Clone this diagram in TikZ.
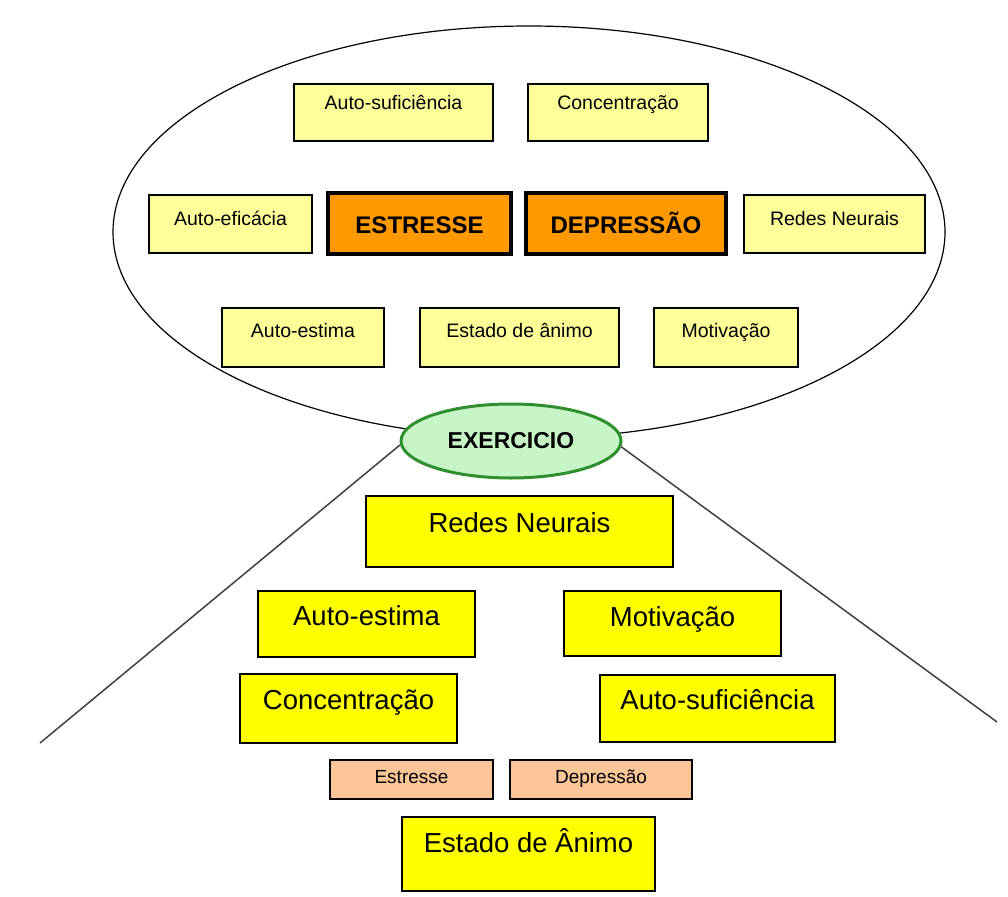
\documentclass[tikz,border=0pt]{standalone}
\usepackage{fontspec}
\setmainfont{Liberation Sans}
\usetikzlibrary{shapes.geometric}
\definecolor{paleY}{HTML}{FFFF99}
\definecolor{orng}{HTML}{FF9900}
\definecolor{peach}{HTML}{FBC597}
\definecolor{brY}{HTML}{FFFF00}
\definecolor{exfill}{HTML}{C8F5C8}
\definecolor{exline}{HTML}{2F8F2F}
\definecolor{connc}{HTML}{404040}
\tikzset{
  sbox/.style={draw=black, line width=1.5pt, fill=paleY, inner sep=0pt, anchor=base,
    font=\fontsize{19.5}{21}\selectfont},
  tbox/.style={draw=black, line width=3.5pt, fill=orng, inner sep=0pt, anchor=base,
    font=\fontsize{24}{26}\selectfont\bfseries},
  bbox/.style={draw=black, line width=1.5pt, fill=brY, inner sep=0pt, anchor=base,
    font=\fontsize{27.5}{30}\selectfont},
  pbox/.style={draw=black, line width=1.5pt, fill=peach, inner sep=0pt, anchor=base,
    font=\fontsize{19}{21}\selectfont},
  conn/.style={draw=connc, line width=1.5pt},
}
\begin{document}
\begin{tikzpicture}[x=1pt, y=-1pt]
\fill[white] (0,0) rectangle (1008,896);
\useasboundingbox (0,0) rectangle (1008,896);

% big group ellipse
\node[draw=black, ellipse, line width=1.2pt, inner sep=0pt, minimum width=832pt, minimum height=412pt] (grp) at (529,232) {};

% top group boxes
\node[sbox, minimum width=199pt, text height=26pt, text depth=31pt] (s1) at (393.5,110) {Auto-suficiência};
\node[sbox, minimum width=180pt, text height=26pt, text depth=31pt] (s2) at (618,110) {Concentração};
\node[sbox, minimum width=163pt, text height=30pt, text depth=28pt] (s3) at (230.5,225) {Auto-eficácia};
\node[tbox, minimum width=183pt, text height=40pt, text depth=21pt] (t1) at (419.5,233) {ESTRESSE};
\node[tbox, minimum width=200pt, text height=40pt, text depth=21pt] (t2) at (626,233) {DEPRESSÃO};
\node[sbox, minimum width=181pt, text height=30pt, text depth=28pt] (s4) at (834.5,225) {Redes Neurais};
\node[sbox, minimum width=162pt, text height=29pt, text depth=30pt] (s5) at (303,337) {Auto-estima};
\node[sbox, minimum width=199pt, text height=29pt, text depth=30pt] (s6) at (519.5,337) {Estado de ânimo};
\node[sbox, minimum width=144pt, text height=29pt, text depth=30pt] (s7) at (726,337) {Motivação};

% EXERCICIO
\node[ellipse, draw=exline, line width=3pt, fill=exfill, inner sep=0pt,
  minimum width=220pt, minimum height=74pt, font=\fontsize{23}{25}\selectfont\bfseries] (ex) at (511,441) {EXERCICIO};

\coordinate (le) at (40,743);
\coordinate (re) at (997,722);
\draw[conn] (ex.182) -- (le);
\draw[conn] (ex.-3) -- (re);

% bottom boxes
\node[bbox, minimum width=307pt, text height=36pt, text depth=35pt] (b1) at (519.5,532) {Redes Neurais};
\node[bbox, minimum width=217pt, text height=34pt, text depth=32pt] (b2) at (366.5,625) {Auto-estima};
\node[bbox, minimum width=217pt, text height=35pt, text depth=30pt] (b3) at (672.5,626) {Motivação};
\node[bbox, minimum width=217pt, text height=35pt, text depth=34pt] (b4) at (348.5,709) {Concentração};
\node[bbox, minimum width=235pt, text height=34pt, text depth=33pt] (b5) at (717.5,709) {Auto-suficiência};
\node[pbox, minimum width=163pt, text height=23pt, text depth=16pt] (p1) at (411.5,783) {Estresse};
\node[pbox, minimum width=182pt, text height=23pt, text depth=16pt] (p2) at (601,783) {Depressão};
\node[bbox, minimum width=253pt, text height=35pt, text depth=39pt] (b6) at (528.5,852) {Estado de Ânimo};
\end{tikzpicture}
\end{document}
